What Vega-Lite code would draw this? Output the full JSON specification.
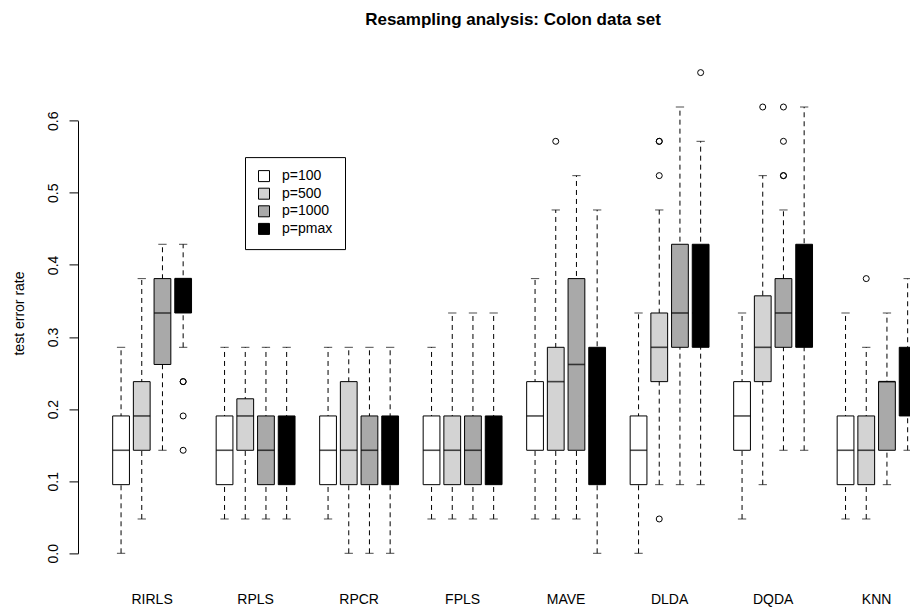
{
  "$schema": "https://vega.github.io/schema/vega-lite/v6.json",
  "autosize": {"type": "none"},
  "padding": {"left": 78, "top": 53.4, "right": 0, "bottom": 36.5},
  "width": 832,
  "height": 519.1,
  "background": "white",
  "title": {
    "text": "Resampling analysis: Colon data set",
    "fontSize": 17,
    "fontWeight": "bold",
    "font": "Liberation Sans",
    "color": "black",
    "anchor": "middle",
    "baseline": "alphabetic",
    "offset": 11.7,
    "dx": 19
  },
  "config": {
    "view": {"stroke": null},
    "font": "Liberation Sans"
  },
  "datasets": {
    "boxes": [
      {"method": "RIRLS", "p": "p=100", "lo": 0, "q1": 0.0952, "med": 0.1429, "q3": 0.1905, "hi": 0.2857},
      {"method": "RIRLS", "p": "p=500", "lo": 0.0476, "q1": 0.1429, "med": 0.1905, "q3": 0.2381, "hi": 0.381},
      {"method": "RIRLS", "p": "p=1000", "lo": 0.1429, "q1": 0.2619, "med": 0.3333, "q3": 0.381, "hi": 0.4286},
      {"method": "RIRLS", "p": "p=pmax", "lo": 0.2857, "q1": 0.3333, "med": 0.381, "q3": 0.381, "hi": 0.4286},
      {"method": "RPLS", "p": "p=100", "lo": 0.0476, "q1": 0.0952, "med": 0.1429, "q3": 0.1905, "hi": 0.2857},
      {"method": "RPLS", "p": "p=500", "lo": 0.0476, "q1": 0.1429, "med": 0.1905, "q3": 0.2143, "hi": 0.2857},
      {"method": "RPLS", "p": "p=1000", "lo": 0.0476, "q1": 0.0952, "med": 0.1429, "q3": 0.1905, "hi": 0.2857},
      {"method": "RPLS", "p": "p=pmax", "lo": 0.0476, "q1": 0.0952, "med": 0.1429, "q3": 0.1905, "hi": 0.2857},
      {"method": "RPCR", "p": "p=100", "lo": 0.0476, "q1": 0.0952, "med": 0.1429, "q3": 0.1905, "hi": 0.2857},
      {"method": "RPCR", "p": "p=500", "lo": 0, "q1": 0.0952, "med": 0.1429, "q3": 0.2381, "hi": 0.2857},
      {"method": "RPCR", "p": "p=1000", "lo": 0, "q1": 0.0952, "med": 0.1429, "q3": 0.1905, "hi": 0.2857},
      {"method": "RPCR", "p": "p=pmax", "lo": 0, "q1": 0.0952, "med": 0.1429, "q3": 0.1905, "hi": 0.2857},
      {"method": "FPLS", "p": "p=100", "lo": 0.0476, "q1": 0.0952, "med": 0.1429, "q3": 0.1905, "hi": 0.2857},
      {"method": "FPLS", "p": "p=500", "lo": 0.0476, "q1": 0.0952, "med": 0.1429, "q3": 0.1905, "hi": 0.3333},
      {"method": "FPLS", "p": "p=1000", "lo": 0.0476, "q1": 0.0952, "med": 0.1429, "q3": 0.1905, "hi": 0.3333},
      {"method": "FPLS", "p": "p=pmax", "lo": 0.0476, "q1": 0.0952, "med": 0.1429, "q3": 0.1905, "hi": 0.3333},
      {"method": "MAVE", "p": "p=100", "lo": 0.0476, "q1": 0.1429, "med": 0.1905, "q3": 0.2381, "hi": 0.381},
      {"method": "MAVE", "p": "p=500", "lo": 0.0476, "q1": 0.1429, "med": 0.2381, "q3": 0.2857, "hi": 0.4762},
      {"method": "MAVE", "p": "p=1000", "lo": 0.0476, "q1": 0.1429, "med": 0.2619, "q3": 0.381, "hi": 0.5238},
      {"method": "MAVE", "p": "p=pmax", "lo": 0, "q1": 0.0952, "med": 0.1905, "q3": 0.2857, "hi": 0.4762},
      {"method": "DLDA", "p": "p=100", "lo": 0, "q1": 0.0952, "med": 0.1429, "q3": 0.1905, "hi": 0.3333},
      {"method": "DLDA", "p": "p=500", "lo": 0.0952, "q1": 0.2381, "med": 0.2857, "q3": 0.3333, "hi": 0.4762},
      {"method": "DLDA", "p": "p=1000", "lo": 0.0952, "q1": 0.2857, "med": 0.3333, "q3": 0.4286, "hi": 0.619},
      {"method": "DLDA", "p": "p=pmax", "lo": 0.0952, "q1": 0.2857, "med": 0.3333, "q3": 0.4286, "hi": 0.5714},
      {"method": "DQDA", "p": "p=100", "lo": 0.0476, "q1": 0.1429, "med": 0.1905, "q3": 0.2381, "hi": 0.3333},
      {"method": "DQDA", "p": "p=500", "lo": 0.0952, "q1": 0.2381, "med": 0.2857, "q3": 0.3571, "hi": 0.5238},
      {"method": "DQDA", "p": "p=1000", "lo": 0.1429, "q1": 0.2857, "med": 0.3333, "q3": 0.381, "hi": 0.4762},
      {"method": "DQDA", "p": "p=pmax", "lo": 0.1429, "q1": 0.2857, "med": 0.3333, "q3": 0.4286, "hi": 0.619},
      {"method": "KNN", "p": "p=100", "lo": 0.0476, "q1": 0.0952, "med": 0.1429, "q3": 0.1905, "hi": 0.3333},
      {"method": "KNN", "p": "p=500", "lo": 0.0476, "q1": 0.0952, "med": 0.1429, "q3": 0.1905, "hi": 0.2857},
      {"method": "KNN", "p": "p=1000", "lo": 0.0952, "q1": 0.1429, "med": 0.2381, "q3": 0.2381, "hi": 0.3333},
      {"method": "KNN", "p": "p=pmax", "lo": 0.1429, "q1": 0.1905, "med": 0.2381, "q3": 0.2857, "hi": 0.381}
    ],
    "outliers": [
      {"method": "RIRLS", "p": "p=pmax", "value": 0.2381},
      {"method": "RIRLS", "p": "p=pmax", "value": 0.2381},
      {"method": "RIRLS", "p": "p=pmax", "value": 0.1905},
      {"method": "RIRLS", "p": "p=pmax", "value": 0.1429},
      {"method": "MAVE", "p": "p=500", "value": 0.5714},
      {"method": "DLDA", "p": "p=500", "value": 0.5238},
      {"method": "DLDA", "p": "p=500", "value": 0.5714},
      {"method": "DLDA", "p": "p=500", "value": 0.5714},
      {"method": "DLDA", "p": "p=500", "value": 0.0476},
      {"method": "DLDA", "p": "p=pmax", "value": 0.6667},
      {"method": "DQDA", "p": "p=500", "value": 0.619},
      {"method": "DQDA", "p": "p=1000", "value": 0.5238},
      {"method": "DQDA", "p": "p=1000", "value": 0.5238},
      {"method": "DQDA", "p": "p=1000", "value": 0.5714},
      {"method": "DQDA", "p": "p=1000", "value": 0.619},
      {"method": "KNN", "p": "p=500", "value": 0.381}
    ]
  },
  "encoding": {
    "x": {
      "field": "method",
      "type": "nominal",
      "sort": ["RIRLS", "RPLS", "RPCR", "FPLS", "MAVE", "DLDA", "DQDA", "KNN"],
      "scale": {
        "domain": ["RIRLS", "RPLS", "RPCR", "FPLS", "MAVE", "DLDA", "DQDA", "KNN"],
        "range": [0, 872.7],
        "paddingInner": 0.2,
        "paddingOuter": 0.316
      },
      "axis": {
        "title": null,
        "domain": false,
        "ticks": false,
        "tickSize": 0,
        "labelAngle": 0,
        "labelFontSize": 14,
        "labelColor": "black",
        "labelBaseline": "alphabetic",
        "labelPadding": 30.5,
        "labelFont": "Liberation Sans"
      }
    }
  },
  "layer": [
    {
      "data": {"name": "boxes"},
      "mark": {"type": "rule", "stroke": "black", "strokeWidth": 1, "strokeDash": [5, 4]},
      "encoding": {
        "xOffset": {"field": "p", "type": "nominal", "sort": ["p=100", "p=500", "p=1000", "p=pmax"], "scale": {"domain": ["p=100", "p=500", "p=1000", "p=pmax"], "paddingInner": 0.19, "paddingOuter": 0.095}},
        "y": {
          "field": "lo",
          "type": "quantitative",
          "scale": {"domain": [0, 0.6], "range": [499.9, 67.3], "nice": false, "zero": false},
          "axis": {
            "title": "test error rate",
            "titleFontSize": 14,
            "titleFontWeight": "normal",
            "titleColor": "black",
            "titleFont": "Liberation Sans",
            "titlePadding": 20,
            "titleY": 259.6,
            "values": [0, 0.1, 0.2, 0.3, 0.4, 0.5, 0.6],
            "format": ".1f",
            "domain": true,
            "domainColor": "black",
            "domainWidth": 1,
            "grid": false,
            "tickSize": 9,
            "tickColor": "black",
            "tickWidth": 1,
            "labelAngle": 270,
            "labelAlign": "center",
            "labelBaseline": "alphabetic",
            "labelPadding": 12,
            "labelFontSize": 14,
            "labelColor": "black",
            "labelFont": "Liberation Sans"
          }
        },
        "y2": {"field": "hi"}
      }
    },
    {
      "data": {"name": "boxes"},
      "mark": {"type": "tick", "orient": "horizontal", "color": "black", "size": 8.3, "thickness": 1},
      "encoding": {
        "xOffset": {"field": "p", "type": "nominal", "sort": ["p=100", "p=500", "p=1000", "p=pmax"]},
        "y": {"field": "lo", "type": "quantitative"}
      }
    },
    {
      "data": {"name": "boxes"},
      "mark": {"type": "tick", "orient": "horizontal", "color": "black", "size": 8.3, "thickness": 1},
      "encoding": {
        "xOffset": {"field": "p", "type": "nominal", "sort": ["p=100", "p=500", "p=1000", "p=pmax"]},
        "y": {"field": "hi", "type": "quantitative"}
      }
    },
    {
      "data": {"name": "boxes"},
      "mark": {"type": "bar", "stroke": "black", "strokeWidth": 1, "opacity": 1},
      "encoding": {
        "xOffset": {"field": "p", "type": "nominal", "sort": ["p=100", "p=500", "p=1000", "p=pmax"]},
        "y": {"field": "q1", "type": "quantitative"},
        "y2": {"field": "q3"},
        "fill": {
          "field": "p",
          "type": "nominal",
          "sort": ["p=100", "p=500", "p=1000", "p=pmax"],
          "scale": {"domain": ["p=100", "p=500", "p=1000", "p=pmax"], "range": ["#FFFFFF", "#D3D3D3", "#A9A9A9", "#000000"]},
          "legend": {
            "title": null,
            "orient": "none",
            "legendX": 167,
            "legendY": 103.7,
            "padding": 12,
            "strokeColor": "black",
            "fillColor": "white",
            "symbolType": "square",
            "symbolSize": 121,
            "symbolStrokeColor": "black",
            "symbolStrokeWidth": 1,
            "symbolOpacity": 1,
            "labelFontSize": 14,
            "labelFont": "Liberation Sans",
            "labelColor": "black",
            "labelOffset": 11,
            "rowPadding": 1.6
          }
        }
      }
    },
    {
      "data": {"name": "boxes"},
      "mark": {"type": "tick", "orient": "horizontal", "color": "black", "size": 16.7, "thickness": 1.6},
      "encoding": {
        "xOffset": {"field": "p", "type": "nominal", "sort": ["p=100", "p=500", "p=1000", "p=pmax"]},
        "y": {"field": "med", "type": "quantitative"}
      }
    },
    {
      "data": {"name": "outliers"},
      "mark": {"type": "point", "shape": "circle", "filled": false, "stroke": "black", "strokeWidth": 1, "size": 36, "opacity": 1},
      "encoding": {
        "xOffset": {"field": "p", "type": "nominal", "sort": ["p=100", "p=500", "p=1000", "p=pmax"]},
        "y": {"field": "value", "type": "quantitative"}
      }
    }
  ]
}
